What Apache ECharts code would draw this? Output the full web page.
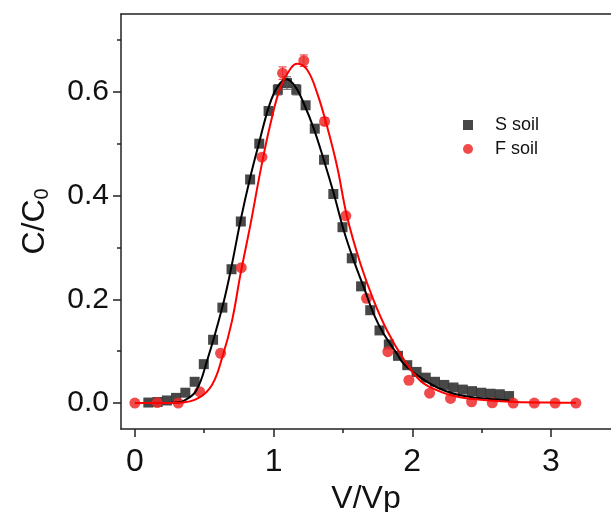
<!DOCTYPE html>
<html>
<head>
<meta charset="utf-8">
<script src="https://cdn.jsdelivr.net/npm/echarts@6/dist/echarts.min.js"></script>
<style>html,body{margin:0;padding:0;background:#fff}#c{width:611px;height:512px}</style>
</head>
<body>
<div id="c"></div>
<script>
// S soil measured points
const sX = [0.097,0.164,0.231,0.297,0.364,0.431,0.497,0.564,0.631,0.697,
            0.764,0.831,0.897,0.964,1.031,1.097,1.164,1.231,1.297,1.364,
            1.431,1.497,1.564,1.631,1.697,1.764,1.831,1.897,1.964,2.031,
            2.097,2.164,2.231,2.297,2.364,2.431,2.497,2.564,2.631,2.698];
const sY = [0.001,0.002,0.005,0.010,0.020,0.041,0.075,0.122,0.184,0.258,
            0.350,0.431,0.500,0.563,0.604,0.617,0.604,0.574,0.529,0.469,
            0.403,0.339,0.279,0.225,0.179,0.140,0.113,0.091,0.073,0.060,
            0.049,0.041,0.035,0.030,0.026,0.023,0.020,0.018,0.017,0.0135];
const sErr = [0,0,0,0,0,0,0,0,0,0,0,0,0,0.008,0.010,0.012,0.010,0,0,0,
              0,0,0,0,0,0,0,0,0,0,0,0,0,0,0,0,0,0,0,0];
// F soil measured points
const fX = [0.0,0.161,0.313,0.467,0.618,0.767,0.916,1.065,1.218,1.368,
            1.521,1.670,1.824,1.976,2.125,2.276,2.428,2.577,2.728,2.880,3.030,3.180];
const fY = [0.0,0.001,0.0,0.022,0.096,0.261,0.474,0.636,0.660,0.543,
            0.361,0.202,0.099,0.044,0.019,0.009,0.0025,0.0006,0.0,0.0,0.0,0.0];
const fErr = [0,0,0,0,0,0,0,0.012,0.011,0.007,0,0,0,0,0,0,0,0,0,0,0,0];
// fitted curves
const sFitX = [0.097,0.20,0.30,0.35,0.44,0.52,0.63,0.695,0.762,0.829,0.894,0.966,1.027,1.094,1.159,1.219,1.29,1.363,1.435,1.507,1.579,1.651,1.723,1.795,1.892,1.94,2.06,2.18,2.30,2.42,2.54,2.70];
const sFitY = [0.0,0.0,0.001,0.004,0.023,0.081,0.184,0.261,0.352,0.432,0.500,0.571,0.609,0.624,0.609,0.577,0.529,0.468,0.403,0.332,0.274,0.223,0.171,0.133,0.094,0.075,0.049,0.030,0.018,0.0116,0.0083,0.005];
const fFitX = [0.0,0.20,0.32,0.46,0.558,0.63,0.70,0.762,0.834,0.906,0.978,1.05,1.123,1.171,1.243,1.315,1.387,1.459,1.531,1.627,1.723,1.82,1.94,2.06,2.18,2.30,2.42,2.56,2.75,3.0,3.18];
const fFitY = [0.0,0.0,0.0005,0.010,0.036,0.088,0.158,0.249,0.345,0.448,0.539,0.609,0.645,0.654,0.642,0.597,0.532,0.455,0.358,0.268,0.197,0.139,0.084,0.0425,0.0245,0.0135,0.0083,0.005,0.002,0.001,0.0005];
const xTicks = [0,1,2,3];
const xMinor = [0.5,1.5,2.5];
const yTicks = [0,0.2,0.4,0.6];
const yMinor = [0.1,0.3,0.5,0.7];
const legendNames = ['S soil','F soil'];

const zip = (a,b) => a.map((v,i)=>[v,b[i]]);
const errData = (xs,ys,es) => xs.map((v,i)=>[v,ys[i],es[i]]).filter(d=>d[2]>0);

const FONT = 'Liberation Sans, Arial, sans-serif';
const AX = '#222';
const chart = echarts.init(document.getElementById('c'), null, {renderer:'canvas'});

function errSeries(data,color){
  return {
    type:'custom', xAxisIndex:0, yAxisIndex:0, z:3, silent:true,
    data:data,
    renderItem:function(params,api){
      const x=api.value(0), y=api.value(1), e=api.value(2);
      const lo=api.coord([x,y-e]), hi=api.coord([x,y+e]);
      const w=4;
      const st={stroke:color,lineWidth:1};
      return {type:'group',children:[
        {type:'line',shape:{x1:lo[0],y1:lo[1],x2:hi[0],y2:hi[1]},style:st},
        {type:'line',shape:{x1:lo[0]-w,y1:lo[1],x2:lo[0]+w,y2:lo[1]},style:st},
        {type:'line',shape:{x1:hi[0]-w,y1:hi[1],x2:hi[0]+w,y2:hi[1]},style:st}
      ]};
    }
  };
}

const xBase = {type:'value', min:-0.1, max:3.433, gridIndex:0, position:'bottom', splitLine:{show:false}};
const yBase = {type:'value', min:-0.05, max:0.75, gridIndex:0, position:'left', splitLine:{show:false}};

chart.setOption({
  animation:false,
  backgroundColor:'#fff',
  grid:{left:121, top:14, right:0, height:415, show:false, containLabel:false, outerBoundsMode:'none'},
  legend:{
    data:legendNames, orient:'vertical', left:458, top:111, itemWidth:10, itemHeight:10, itemGap:6,
    textStyle:{fontFamily:FONT, fontSize:18, color:'#111', padding:[0,0,0,17]}
  },
  xAxis:[
    Object.assign({}, xBase, {
      name:'V/Vp', nameLocation:'middle', nameGap:46,
      nameTextStyle:{fontFamily:FONT, fontSize:32, color:'#111'},
      axisLine:{show:true, onZero:false, lineStyle:{color:AX, width:1.5}},
      axisTick:{show:true, inside:false, length:8, customValues:xTicks, lineStyle:{color:AX, width:1.5}},
      axisLabel:{show:true, margin:17, customValues:xTicks, fontFamily:FONT, fontSize:32, color:'#111', formatter:v=>String(v)}
    }),
    Object.assign({}, xBase, {
      axisLine:{show:false, onZero:false},
      axisTick:{show:true, inside:false, length:4, customValues:xMinor, lineStyle:{color:AX, width:1.5}},
      axisLabel:{show:false}
    }),
    Object.assign({}, xBase, {
      position:'top',
      axisLine:{show:true, onZero:false, lineStyle:{color:AX, width:1.5}},
      axisTick:{show:false},
      axisLabel:{show:false}
    })
  ],
  yAxis:[
    Object.assign({}, yBase, {
      name:'C/C{s|0}', nameLocation:'middle', nameGap:69, nameRotate:90,
      nameTextStyle:{fontFamily:FONT, fontSize:32, color:'#111', rich:{s:{fontFamily:FONT, fontSize:20, color:'#111', verticalAlign:'bottom', padding:[14,0,0,0]}}},
      axisLine:{show:true, onZero:false, lineStyle:{color:AX, width:1.5}},
      axisTick:{show:true, inside:false, length:8, customValues:yTicks, lineStyle:{color:AX, width:1.5}},
      axisLabel:{show:true, margin:12, customValues:yTicks, fontFamily:FONT, fontSize:30, color:'#111', formatter:v=>v.toFixed(1)}
    }),
    Object.assign({}, yBase, {
      axisLine:{show:false, onZero:false},
      axisTick:{show:true, inside:false, length:4, customValues:yMinor, lineStyle:{color:AX, width:1.5}},
      axisLabel:{show:false}
    })
  ],
  series:[
    {name:legendNames[0], type:'scatter', xAxisIndex:0, yAxisIndex:0, symbol:'rect', symbolSize:10, z:2,
     itemStyle:{color:'#333', opacity:0.9}, data:zip(sX,sY)},
    {name:legendNames[1], type:'scatter', xAxisIndex:0, yAxisIndex:0, symbol:'circle', symbolSize:11, z:2,
     itemStyle:{color:'#ef2a2a', opacity:0.85}, data:zip(fX,fY)},
    errSeries(errData(sX,sY,sErr),'#555'),
    errSeries(errData(fX,fY,fErr),'#ef2a2a'),
    {type:'line', xAxisIndex:0, yAxisIndex:0, smooth:0.4, showSymbol:false, z:4, silent:true,
     lineStyle:{color:'#000', width:2}, data:zip(sFitX,sFitY)},
    {type:'line', xAxisIndex:0, yAxisIndex:0, smooth:0.4, showSymbol:false, z:4, silent:true,
     lineStyle:{color:'#ff0000', width:2}, data:zip(fFitX,fFitY)}
  ]
});
</script>
</body>
</html>
